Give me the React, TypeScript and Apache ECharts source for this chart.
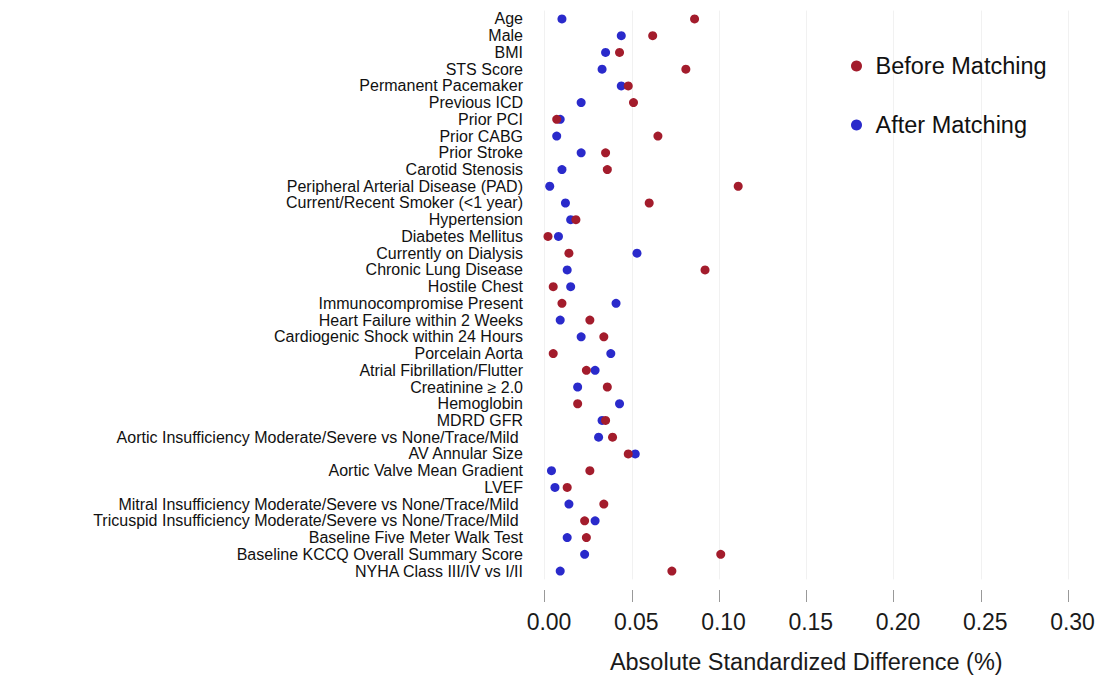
import React, { useEffect, useRef } from "react";
import * as echarts from "echarts";

const categories = [
  "Age",
  "Male",
  "BMI",
  "STS Score",
  "Permanent Pacemaker",
  "Previous ICD",
  "Prior PCI",
  "Prior CABG",
  "Prior Stroke",
  "Carotid Stenosis",
  "Peripheral Arterial Disease (PAD)",
  "Current/Recent Smoker (<1 year)",
  "Hypertension",
  "Diabetes Mellitus",
  "Currently on Dialysis",
  "Chronic Lung Disease",
  "Hostile Chest",
  "Immunocompromise Present",
  "Heart Failure within 2 Weeks",
  "Cardiogenic Shock within 24 Hours",
  "Porcelain Aorta",
  "Atrial Fibrillation/Flutter",
  "Creatinine \u2265 2.0",
  "Hemoglobin",
  "MDRD GFR",
  "Aortic Insufficiency Moderate/Severe vs None/Trace/Mild ",
  "AV Annular Size",
  "Aortic Valve Mean Gradient",
  "LVEF",
  "Mitral Insufficiency Moderate/Severe vs None/Trace/Mild ",
  "Tricuspid Insufficiency Moderate/Severe vs None/Trace/Mild ",
  "Baseline Five Meter Walk Test",
  "Baseline KCCQ Overall Summary Score",
  "NYHA Class III/IV vs I/II",
];

const beforeMatching = [
  0.086, 0.062, 0.043, 0.081, 0.048, 0.051, 0.007, 0.065, 0.035, 0.036,
  0.111, 0.06, 0.018, 0.002, 0.014, 0.092, 0.005, 0.01, 0.026, 0.034,
  0.005, 0.024, 0.036, 0.019, 0.035, 0.039, 0.048, 0.026, 0.013, 0.034,
  0.023, 0.024, 0.101, 0.073,
];

const afterMatching = [
  0.01, 0.044, 0.035, 0.033, 0.044, 0.021, 0.009, 0.007, 0.021, 0.01,
  0.003, 0.012, 0.015, 0.008, 0.053, 0.013, 0.015, 0.041, 0.009, 0.021,
  0.038, 0.029, 0.019, 0.043, 0.033, 0.031, 0.052, 0.004, 0.006, 0.014,
  0.029, 0.013, 0.023, 0.009,
];

export default function App() {
  const ref = useRef<HTMLDivElement>(null);
  useEffect(() => {
    if (!ref.current) return;
    const chart = echarts.init(ref.current, null, { renderer: "svg" });
    const font = "Liberation Sans, Arial, sans-serif";
    chart.setOption({
      animation: false,
      backgroundColor: "#ffffff",
      textStyle: { fontFamily: font },
      grid: { left: 544.5, right: 33, top: 10.6, height: 568.8 },
      legend: {
        orient: "vertical",
        left: 846,
        top: 47,
        itemGap: 31,
        itemWidth: 12,
        itemHeight: 11,
        icon: "circle",
        data: ["Before Matching", "After Matching"],
        textStyle: { fontSize: 23.5, color: "#111", fontFamily: font, lineHeight: 28, padding: [0, 0, 0, 8] },
      },
      xAxis: {
        type: "value",
        min: 0,
        max: 0.3,
        interval: 0.05,
        offset: 10.6,
        axisLine: { show: false },
        axisTick: { show: true, length: 12, lineStyle: { color: "#999" } },
        splitLine: { show: true, lineStyle: { color: "#f1f1f1", width: 1 } },
        axisLabel: {
          fontSize: 23,
          color: "#1a1a1a",
          margin: 20,
          fontFamily: font,
          padding: [0, 0, 0, 9],
          formatter: (v: number) => v.toFixed(2),
        },
        name: "Absolute Standardized Difference (%)",
        nameLocation: "middle",
        nameGap: 60,
        nameTextStyle: { fontSize: 23.5, color: "#1a1a1a", fontFamily: font },
      },
      yAxis: {
        type: "category",
        data: categories,
        inverse: true,
        axisLine: { show: false },
        axisTick: { show: false },
        splitLine: { show: false },
        axisLabel: {
          fontSize: 16,
          color: "#111",
          margin: 21.5,
          fontFamily: font,
          interval: 0,
        },
      },
      series: [
        {
          name: "After Matching",
          type: "scatter",
          data: afterMatching.map((v, i) => [v, categories[i]]),
          symbol: "circle",
          symbolSize: 9,
          itemStyle: { color: "#2a2acb", opacity: 1 },
        },
        {
          name: "Before Matching",
          type: "scatter",
          data: beforeMatching.map((v, i) => [v, categories[i]]),
          symbol: "circle",
          symbolSize: 9,
          itemStyle: { color: "#a31c2c", opacity: 1 },
        },
      ],
    });
    return () => chart.dispose();
  }, []);
  return (
    <div
      ref={ref}
      style={{ position: "fixed", left: 0, top: 0, width: 1101, height: 685, background: "#fff" }}
    />
  );
}
